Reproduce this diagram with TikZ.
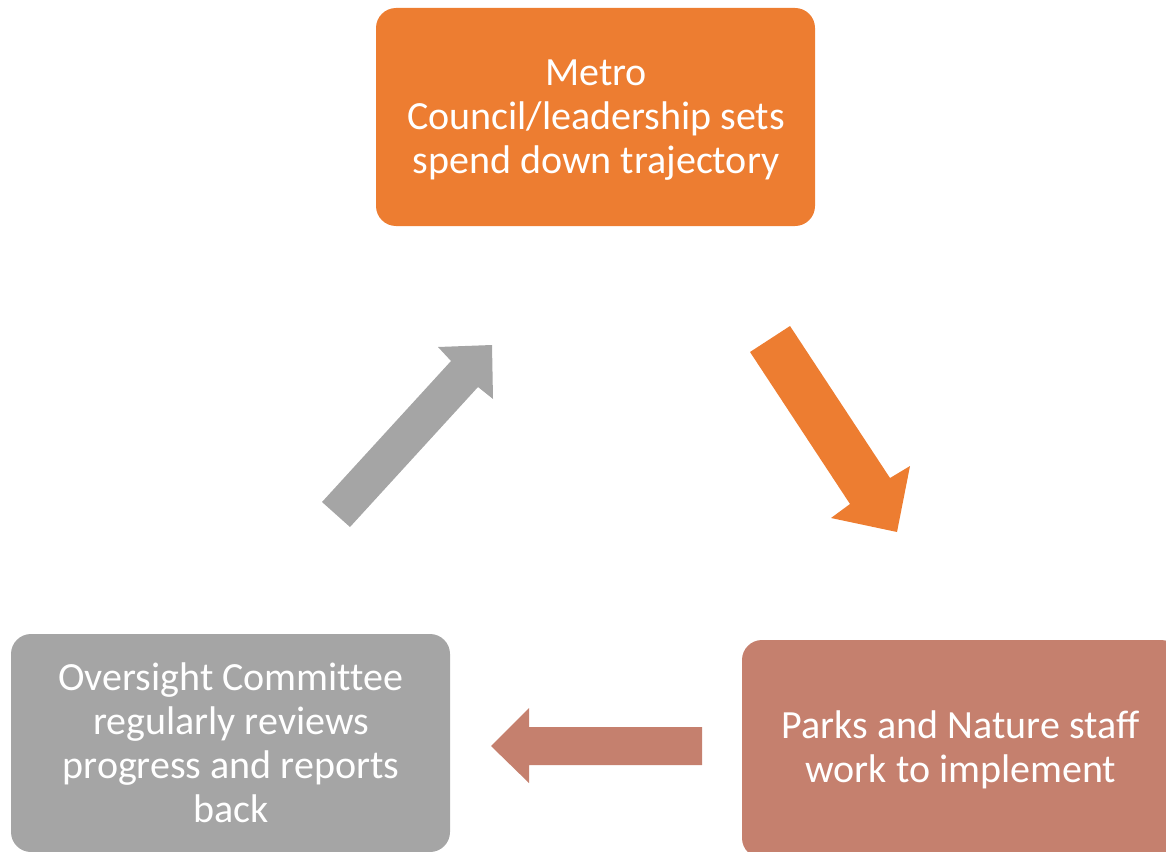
\documentclass[tikz,border=0pt]{standalone}
\usepackage{fontspec}
\setmainfont[Ligatures=NoCommon]{Carlito}
\definecolor{cOrange}{HTML}{ED7D31}
\definecolor{cSalmon}{HTML}{C5806E}
\definecolor{cGray}{HTML}{A5A5A5}
\begin{document}
\begin{tikzpicture}[x=1pt,y=-1pt,
  box/.style={text=white,align=center,inner sep=0pt,
    font=\fontsize{40}{44}\selectfont}]
\useasboundingbox (0,0) rectangle (1166,851);
\clip (0,0) rectangle (1166,851);
% boxes
\fill[cOrange,rounded corners=20pt] (376,8) rectangle (815,226);
\node[box] (top) at (596,120) {Metro\\Council/leadership sets\\spend down trajectory};
\fill[cSalmon,rounded corners=20pt] (742,640) rectangle (1181,858);
\node[box] (right) at (961,750) {Parks and Nature staff\\work to implement};
\fill[cGray,rounded corners=20pt] (11,634) rectangle (450,852);
\node[box] (left) at (231,743) {Oversight Committee\\regularly reviews\\progress and reports\\back};
% orange arrow
\coordinate (o1) at (750,352);
\coordinate (o2) at (790,326);
\coordinate (o3) at (890,478);
\coordinate (o4) at (910,466);
\coordinate (o5) at (897,532);
\coordinate (o6) at (831,518);
\coordinate (o7) at (850,504);
\fill[cOrange] (o1) -- (o2) -- (o3) -- (o4) -- (o5) -- (o6) -- (o7) -- cycle;
% salmon arrow
\coordinate (s1) at (702,727);
\coordinate (s2) at (529,727);
\coordinate (s3) at (529,708);
\coordinate (s4) at (491,746);
\coordinate (s5) at (529,783);
\coordinate (s6) at (529,765);
\coordinate (s7) at (702,765);
\fill[cSalmon] (s1) -- (s2) -- (s3) -- (s4) -- (s5) -- (s6) -- (s7) -- cycle;
% gray arrow
\coordinate (g1) at (350,527);
\coordinate (g2) at (478,387);
\coordinate (g3) at (493,399);
\coordinate (g4) at (492,345);
\coordinate (g5) at (438,347);
\coordinate (g6) at (451,361);
\coordinate (g7) at (322,502);
\fill[cGray] (g1) -- (g2) -- (g3) -- (g4) -- (g5) -- (g6) -- (g7) -- cycle;
\end{tikzpicture}
\end{document}
